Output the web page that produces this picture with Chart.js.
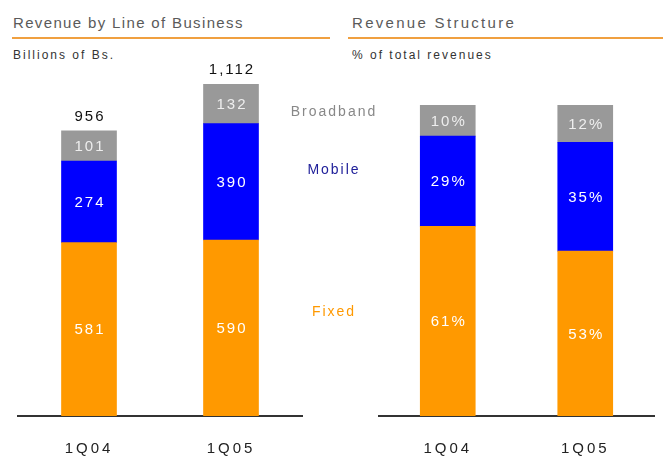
<!DOCTYPE html>
<html>
<head>
<meta charset="utf-8">
<script src="https://cdn.jsdelivr.net/npm/chart.js@4.4.1/dist/chart.umd.min.js"></script>
<style>
  html, body { margin: 0; padding: 0; background: #fff; }
  body { width: 663px; height: 460px; position: relative; overflow: hidden; font-family: 'Liberation Sans', Arial, sans-serif; }
  .title { position: absolute; top: 14px; font-size: 15px; color: #5a5a5a; letter-spacing: 2.3px; }
  .rule { position: absolute; top: 37px; height: 2px; background: #f0a040; }
  .sub { position: absolute; top: 48px; font-size: 12px; color: #333; letter-spacing: 2px; }
  #leftWrap { position: absolute; left: 0; top: 0; width: 400px; height: 486px; }
  #rightWrap { position: absolute; left: 340px; top: 0; width: 323px; height: 486px; }
</style>
</head>
<body>
<div class="title" style="left:13px;letter-spacing:1.35px">Revenue by Line of Business</div>
<div class="rule" style="left:12px;width:318px"></div>
<div class="title" style="left:352px">Revenue Structure</div>
<div class="rule" style="left:348px;width:315px"></div>
<div class="sub" style="left:13px">Billions of Bs.</div>
<div class="sub" style="left:352px">% of total revenues</div>
<div id="leftWrap"><canvas id="left"></canvas></div>
<div id="rightWrap"><canvas id="right"></canvas></div>
<script>
const quarters = ['1Q04', '1Q05']
const fixedRev = [581, 590]
const mobileRev = [274, 390]
const broadbandRev = [101, 132]
const totalRev = ['956', '1,112']
const fixedPct = [61, 53]
const mobilePct = [29, 35]
const broadbandPct = [10, 12]

const ORANGE = '#ff9900'
const BLUE = '#0000ff'
const GRAY = '#999999'
const FONT = "'Liberation Sans', Arial, sans-serif"

// wider spacing for the axis labels, like the original
const spacing = {
  id: 'spacing',
  beforeDraw(chart) {
    chart.ctx.letterSpacing = '3px'
  }
}

// white numbers inside each segment
const segmentLabels = {
  id: 'segmentLabels',
  afterDatasetsDraw(chart, args, opts) {
    const ctx = chart.ctx
    ctx.save()
    ctx.font = '15px ' + FONT
    ctx.letterSpacing = '2px'
    ctx.textAlign = 'center'
    ctx.textBaseline = 'middle'
    chart.data.datasets.forEach((ds, di) => {
      chart.getDatasetMeta(di).data.forEach((bar, i) => {
        const mid = (bar.y + bar.base) / 2
        ctx.fillStyle = di === 2 ? '#eeeeee' : '#ffffff'
        ctx.fillText(ds.data[i] + (opts.suffix || ''), bar.x + 1, mid + 1)
      })
    })
    if (opts.totals) {
      const top = chart.getDatasetMeta(chart.data.datasets.length - 1).data
      ctx.fillStyle = '#111'
      opts.totals.forEach((t, i) => {
        ctx.fillText(t, top[i].x + 1, top[i].y - 14)
      })
    }
    ctx.restore()
  }
}

// series names to the right of the left chart
const seriesNames = {
  id: 'seriesNames',
  afterDraw(chart) {
    const ctx = chart.ctx
    const x = chart.chartArea.right + 32
    ctx.save()
    ctx.font = '14px ' + FONT
    ctx.letterSpacing = '2px'
    ctx.textAlign = 'center'
    ctx.textBaseline = 'middle'
    ctx.fillStyle = '#888'
    ctx.fillText('Broadband', x, 112)
    ctx.fillStyle = '#20209a'
    ctx.fillText('Mobile', x, 170)
    ctx.fillStyle = ORANGE
    ctx.fillText('Fixed', x, 312)
    ctx.restore()
  }
}

function makeChart(id, series, yMax, padding, extra) {
  return new Chart(document.getElementById(id), {
    type: 'bar',
    data: {
      labels: quarters,
      datasets: [
        { label: 'Fixed', data: series[0], backgroundColor: ORANGE },
        { label: 'Mobile', data: series[1], backgroundColor: BLUE },
        { label: 'Broadband', data: series[2], backgroundColor: GRAY }
      ]
    },
    options: {
      responsive: true,
      maintainAspectRatio: false,
      animation: false,
      layout: { padding: padding },
      datasets: { bar: { barThickness: 55 } },
      scales: {
        x: {
          stacked: true,
          grid: { display: false, drawTicks: false },
          border: { display: true, color: '#333', width: 2 },
          ticks: { color: '#222', font: { size: 15, family: FONT }, padding: 24 }
        },
        y: {
          stacked: true,
          display: false,
          min: 0,
          max: yMax
        }
      },
      plugins: {
        legend: { display: false },
        tooltip: { enabled: false },
        segmentLabels: extra
      }
    },
    plugins: extra.names ? [spacing, segmentLabels, seriesNames] : [spacing, segmentLabels]
  })
}

makeChart('left', [fixedRev, mobileRev, broadbandRev], 1160,
  { left: 18, right: 98, top: 70, bottom: 4 }, { totals: totalRev, names: true })
makeChart('right', [fixedPct, mobilePct, broadbandPct], 100,
  { left: 39, right: 9, top: 105, bottom: 4 }, { suffix: '%' })
</script>
</body>
</html>
